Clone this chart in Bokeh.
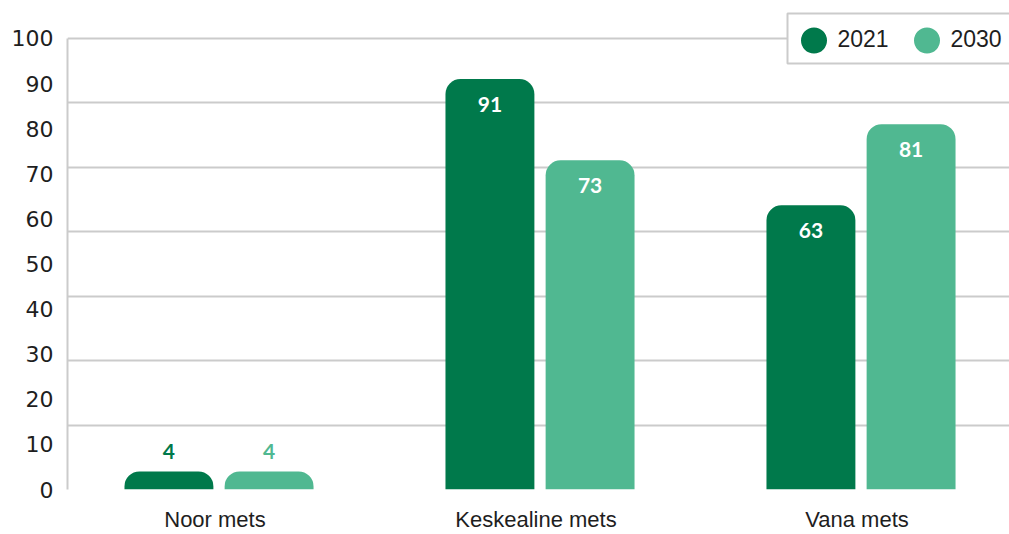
from bokeh.plotting import figure
from bokeh.models import Range1d, FixedTicker, ColumnDataSource, BoxAnnotation, Label
from bokeh.embed import file_html
from bokeh.resources import INLINE
from bokeh.core.properties import value

categories = ["Noor mets", "Keskealine mets", "Vana mets"]
series_names = ["2021", "2030"]
values_2021 = [4, 91, 63]
values_2030 = [4, 73, 81]
y_tick_values = [0, 10, 20, 30, 40, 50, 60, 70, 80, 90, 100]

DARK = "#00794b"
LIGHT = "#50b891"
GRID = "#cbcbcb"
TEXT = "#1e1e1e"

xs = list(range(len(categories)))
BAR_W = 0.277
OFF = 0.156
LABEL_SHIFT = -0.0125

p = figure(width=1009, height=534, output_backend="svg", toolbar_location=None,
           x_range=Range1d(-0.472, 2.4626), y_range=Range1d(0, 106.43),
           min_border_left=67, min_border_right=0, min_border_top=9, min_border_bottom=45)
p.outline_line_color = None
p.background_fill_color = "white"
p.border_fill_color = "white"

# grid
p.xgrid.visible = False
p.ygrid.ticker = FixedTicker(ticks=[100 * k / 7 for k in range(8)])
p.ygrid.grid_line_color = GRID
p.ygrid.grid_line_width = 2

# y axis
p.yaxis.ticker = FixedTicker(ticks=y_tick_values)
p.yaxis.bounds = (0, 100)
p.yaxis.axis_line_color = GRID
p.yaxis.axis_line_width = 2
p.yaxis.major_tick_line_color = None
p.yaxis.minor_tick_line_color = None
p.yaxis.major_tick_out = 0
p.yaxis.major_tick_in = 0
p.yaxis.major_label_text_font = "DejaVu Sans"
p.yaxis.major_label_text_font_size = "22px"
p.yaxis.major_label_text_color = TEXT
p.yaxis.major_label_standoff = 14

# x axis
label_pos = [round(x + LABEL_SHIFT, 4) for x in xs]
p.xaxis.ticker = FixedTicker(ticks=label_pos)
p.xaxis.major_label_overrides = {lp: c for lp, c in zip(label_pos, categories)}
p.xaxis.axis_line_color = None
p.xaxis.major_tick_line_color = None
p.xaxis.minor_tick_line_color = None
p.xaxis.major_tick_out = 0
p.xaxis.major_tick_in = 0
p.xaxis.major_label_text_font = "Liberation Sans"
p.xaxis.major_label_text_font_size = "22px"
p.xaxis.major_label_text_color = TEXT
p.xaxis.major_label_standoff = 17

for vals, off, col in [(values_2021, -OFF, DARK), (values_2030, OFF, LIGHT)]:
    bx = [x + off for x in xs]
    src = ColumnDataSource(dict(x=bx, top=vals))
    p.vbar(x="x", top="top", bottom=0, width=BAR_W, source=src,
           fill_color=col, line_color=None, border_radius=(15, 15, 0, 0))
    inside = [v > 10 for v in vals]
    tsrc = ColumnDataSource(dict(
        x=bx, y=vals, t=[str(v) for v in vals],
        yo=[25 if ins else -20 for ins in inside],
        c=["white" if ins else col for ins in inside]))
    p.text(x="x", y="y", text="t", y_offset="yo", text_color="c", source=tsrc,
           text_align="center", text_baseline="middle",
           text_font=value("Lato"), text_font_style="bold",
           text_font_size="21px")

# legend (drawn in screen units, relative to the plot frame)
p.add_layout(BoxAnnotation(left=720, right=950, bottom=426, top=476,
                           left_units="screen", right_units="screen",
                           top_units="screen", bottom_units="screen",
                           fill_color="white", fill_alpha=1,
                           line_color=GRID, line_width=2, line_alpha=1))
for i, (name, col) in enumerate(zip(series_names, [DARK, LIGHT])):
    cx = 746.5 + 113 * i
    p.add_layout(BoxAnnotation(left=cx - 13, right=cx + 13, bottom=436, top=462,
                               left_units="screen", right_units="screen",
                               top_units="screen", bottom_units="screen",
                               fill_color=col, fill_alpha=1, line_color=None,
                               border_radius=13))
    p.add_layout(Label(x=cx + 23.5, y=451, x_units="screen", y_units="screen",
                       text=name, text_font="Liberation Sans", text_font_size="23px",
                       text_color=TEXT, text_baseline="middle", text_align="left"))

open("out.html", "w").write(file_html(p, INLINE))
